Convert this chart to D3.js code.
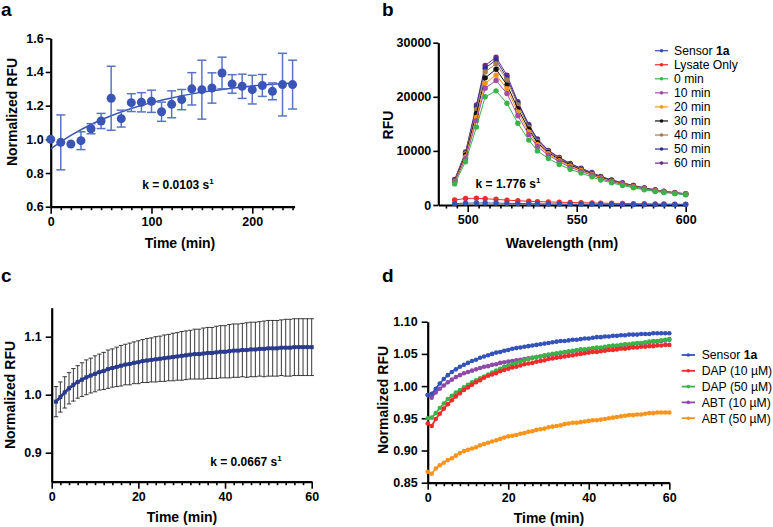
<!DOCTYPE html>
<html><head><meta charset="utf-8">
<script src="https://cdn.jsdelivr.net/npm/d3@7"></script>
<style>body{margin:0;background:#fff} svg text{font-family:"Liberation Sans",Arial,Helvetica,sans-serif}</style>
</head><body><svg id="chart" width="773" height="527"></svg>
<script>
// ---------- Panel a ----------
const aTime = [0,10,20,30,40,50,60,70,80,90,100,110,120,130,140,150,160,170,180,190,200,210,220,230,240];
const aMean = [1.000,0.982,0.972,0.992,1.063,1.109,1.244,1.123,1.218,1.220,1.226,1.164,1.208,1.236,1.300,1.295,1.305,1.394,1.329,1.315,1.295,1.320,1.285,1.325,1.325];
const aErr  = [0,0.163,0,0.053,0.030,0.045,0.190,0.050,0.053,0.057,0.066,0.057,0.080,0.060,0.096,0.175,0.090,0.094,0.055,0.072,0.085,0.065,0.050,0.186,0.145];
const aFitTime = [0,20,40,60,80,100,120,140,160,180,200,220,240];
const aFit = [0.943,1.023,1.088,1.140,1.183,1.218,1.246,1.270,1.289,1.304,1.317,1.327,1.335];
const aYTicks = [0.6,0.8,1.0,1.2,1.4,1.6];
const aXTicks = [0,100,200];

// ---------- Panel b ----------
const bWavelength = [494,499,504,508,513,518,523,528,532,537,542,547,552,557,561,566,571,576,581,586,590,595,600];
const bSeriesNames = ["Sensor 1a","Lysate Only","0 min","10 min","20 min","30 min","40 min","50 min","60 min"];
const bSensor = [250,350,380,380,360,320,280,250,220,200,180,170,150,140,130,120,110,100,100,90,90,80,80];
const bLysate = [920,1200,1250,1150,1050,900,780,700,630,570,510,460,420,380,340,310,280,250,220,200,180,160,140];
const b0min  = [3900,8000,14400,20000,21100,18800,15100,12000,10000,8600,7500,6600,5900,5200,4600,4100,3600,3200,2800,2500,2300,2100,1900];
const b10min = [4200,8600,15600,21600,23000,20600,16500,13000,10800,9200,8000,7000,6200,5500,4850,4300,3800,3350,2950,2600,2400,2200,1950];
const b20min = [4300,8900,16200,22500,24000,21500,17200,13500,11200,9500,8200,7200,6400,5650,5000,4400,3900,3450,3000,2650,2450,2200,2000];
const b30min = [4400,9200,16900,23500,25100,22200,17800,14000,11500,9700,8400,7400,6500,5750,5100,4500,3950,3500,3050,2700,2450,2200,2000];
const b40min = [4500,9500,17600,24600,26100,23100,18500,14400,11800,9900,8600,7500,6600,5850,5150,4550,4000,3550,3100,2750,2500,2250,2050];
const b50min = [4600,9600,18100,25300,26800,23500,18800,14700,12000,10000,8700,7600,6700,5900,5200,4600,4050,3600,3150,2800,2500,2250,2050];
const b60min = [4700,9800,18500,25800,27300,24000,19100,14900,12200,10100,8800,7700,6800,6000,5300,4650,4100,3600,3150,2800,2550,2300,2100];
const bYTicks = [0,10000,20000,30000];
const bXTicks = [500,550,600];
const bColors = ["#3453b3","#ee2a2a","#3cb34a","#a24ca6","#f7941d","#111111","#a67c52","#2e3192","#6a2c86"];

// ---------- Panel c ----------
const cMean = [0.988,0.996,1.004,1.011,1.017,1.022,1.026,1.030,1.033,1.036,1.039,1.041,1.044,1.046,1.048,1.050,1.052,1.053,1.055,1.056,
               1.058,1.059,1.060,1.061,1.062,1.063,1.064,1.065,1.066,1.067,1.068,1.069,1.070,1.070,1.071,1.072,1.072,1.073,1.074,1.074,
               1.075,1.076,1.076,1.077,1.077,1.078,1.078,1.079,1.079,1.080,1.080,1.080,1.081,1.081,1.081,1.082,1.082,1.082,1.082,1.082];
const cErr  = [0.026,0.026,0.027,0.027,0.028,0.028,0.029,0.030,0.030,0.031,0.031,0.032,0.033,0.033,0.034,0.035,0.035,0.036,0.036,0.037,
               0.037,0.038,0.038,0.039,0.039,0.040,0.040,0.041,0.041,0.042,0.042,0.042,0.043,0.043,0.044,0.044,0.044,0.045,0.045,0.045,
               0.046,0.046,0.046,0.046,0.047,0.047,0.047,0.047,0.048,0.048,0.048,0.048,0.048,0.049,0.049,0.049,0.049,0.049,0.049,0.049];
const cYTicks = [0.9,1.0,1.1];
const cXTicks = [0,20,40,60];

// ---------- Panel d ----------
const dSeriesNames = ["Sensor 1a","DAP (10 µM)","DAP (50 µM)","ABT (10 µM)","ABT (50 µM)"];
const dSensor = [0.986,0.988,0.996,1.004,1.011,1.017,1.022,1.026,1.030,1.033,1.036,1.039,1.041,1.044,1.046,1.048,1.050,1.052,1.053,1.055,1.056,
                 1.058,1.059,1.060,1.061,1.062,1.063,1.064,1.065,1.066,1.067,1.068,1.069,1.070,1.070,1.071,1.072,1.072,1.073,1.074,1.074,
                 1.075,1.076,1.076,1.077,1.077,1.078,1.078,1.079,1.079,1.080,1.080,1.080,1.081,1.081,1.081,1.082,1.082,1.082,1.082,1.082];
const dDAP10 = [0.942,0.938,0.949,0.957,0.965,0.972,0.978,0.984,0.989,0.994,0.998,1.002,1.006,1.009,1.013,1.016,1.018,1.020,1.023,1.025,1.027,
                1.029,1.030,1.032,1.034,1.035,1.036,1.038,1.039,1.040,1.042,1.043,1.044,1.045,1.046,1.047,1.048,1.049,1.050,1.051,1.052,
                1.053,1.053,1.054,1.055,1.056,1.056,1.057,1.058,1.058,1.059,1.060,1.060,1.061,1.061,1.062,1.062,1.063,1.063,1.064,1.064];
const dDAP50 = [0.950,0.951,0.958,0.966,0.973,0.980,0.985,0.990,0.994,0.998,1.002,1.006,1.009,1.012,1.015,1.018,1.021,1.024,1.027,1.030,1.032,
                1.034,1.036,1.038,1.040,1.042,1.044,1.045,1.046,1.048,1.049,1.050,1.051,1.052,1.053,1.054,1.055,1.056,1.057,1.057,1.058,
                1.059,1.060,1.060,1.061,1.062,1.063,1.063,1.064,1.065,1.065,1.066,1.067,1.067,1.068,1.069,1.070,1.070,1.071,1.072,1.073];
const dABT10 = [0.986,0.982,0.990,0.996,1.001,1.006,1.010,1.014,1.017,1.020,1.022,1.024,1.026,1.028,1.030,1.031,1.033,1.034,1.036,1.037,1.038,
                1.039,1.040,1.041,1.042,1.043,1.044,1.045,1.046,1.047,1.048,1.049,1.050,1.051,1.052,1.053,1.054,1.055,1.056,1.056,1.057,
                1.058,1.059,1.059,1.060,1.061,1.062,1.062,1.063,1.064,1.064,1.065,1.066,1.066,1.067,1.068,1.069,1.069,1.070,1.071,1.072];
const dABT50 = [0.867,0.864,0.872,0.877,0.881,0.885,0.888,0.892,0.896,0.899,0.901,0.903,0.905,0.908,0.910,0.912,0.914,0.916,0.918,0.920,0.922,
                0.923,0.924,0.926,0.927,0.929,0.930,0.932,0.933,0.934,0.936,0.937,0.938,0.939,0.941,0.942,0.943,0.943,0.944,0.945,0.946,
                0.947,0.947,0.948,0.949,0.950,0.951,0.952,0.953,0.954,0.955,0.955,0.956,0.956,0.957,0.958,0.958,0.959,0.959,0.959,0.959];
const dYTicks = [0.85,0.90,0.95,1.00,1.05,1.10];
const dXTicks = [0,20,40,60];
const dColors = ["#3453b8","#ee2a2a","#3cb34a","#9149a8","#f7941d"];

// ================= drawing =================
const svg = d3.select("#chart");
const FONT = '"Liberation Sans",Arial,Helvetica,sans-serif';

function styleAxis(g, fs) {
  g.attr("font-family", FONT);
  g.selectAll("text").attr("font-size", fs).attr("font-weight", "bold").attr("fill", "#000");
  g.selectAll("line").attr("stroke", "#000").attr("stroke-width", 1.6);
  g.selectAll("path.domain").attr("stroke", "#000").attr("stroke-width", 2.2);
}
function drawAxes(o) {
  const gxMin = svg.append("g").attr("transform", `translate(0,${o.y.range()[0]})`)
    .call(d3.axisBottom(o.x).tickValues(o.xMinor).tickSize(3.5).tickFormat("").tickSizeOuter(0));
  gxMin.select(".domain").remove(); styleAxis(gxMin, 12.5);
  const gx = svg.append("g").attr("transform", `translate(0,${o.y.range()[0]})`)
    .call(d3.axisBottom(o.x).tickValues(o.xMajor).tickSize(7).tickPadding(3.5).tickFormat(o.xFmt).tickSizeOuter(0));
  styleAxis(gx, 12.5);
  const gy = svg.append("g").attr("transform", `translate(${o.x.range()[0]},0)`)
    .call(d3.axisLeft(o.y).tickValues(o.yMajor).tickSize(o.yTick || 5).tickPadding(o.yPad || 2.5).tickFormat(o.yFmt).tickSizeOuter(0));
  styleAxis(gy, 12.5);
}
function label(x, y, txt, opts = {}) {
  const t = svg.append("text").attr("x", x).attr("y", y).attr("text-anchor", opts.anchor || "middle")
    .attr("font-size", opts.size || 14).attr("font-weight", opts.weight || "bold").attr("fill", "#000")
    .attr("font-family", FONT).text(txt);
  if (opts.rotate) t.attr("transform", `rotate(-90,${x},${y})`);
  return t;
}
function kLabel(x, y, txt) {
  const t = svg.append("text").attr("x", x).attr("y", y).attr("text-anchor", "middle")
    .attr("font-size", 12).attr("font-weight", "bold").attr("font-family", FONT).attr("fill", "#000");
  t.append("tspan").text(txt + " s");
  t.append("tspan").attr("font-size", 8).attr("dy", -5).text("1");
}

// ---- Panel a ----
{
  const x = d3.scaleLinear().domain([0, 242]).range([50.7, 294.6]);
  const y = d3.scaleLinear().domain([0.6, 1.6]).range([206.7, 38.3]);
  const minor = d3.range(10, 241, 10).filter(v => !aXTicks.includes(v));
  drawAxes({x, y, xMinor: minor, xMajor: aXTicks, xFmt: d3.format("d"), yMajor: aYTicks, yFmt: d3.format(".1f"), yTick: 5, yPad: 2});
  const col = "#3a55b5", errCol = "#5874c6";
  const fit = aFitTime.map((t, i) => [t, aFit[i]]);
  svg.append("path").datum(fit).attr("fill", "none").attr("stroke", col).attr("stroke-width", 1.5)
    .attr("d", d3.line().x(d => x(d[0])).y(d => y(d[1])).curve(d3.curveMonotoneX));
  const g = svg.append("g");
  aTime.forEach((t, i) => {
    const e = aErr[i];
    if (e > 0) {
      const cx = x(t), y1 = y(aMean[i] + e), y2 = y(aMean[i] - e);
      g.append("line").attr("x1", cx).attr("x2", cx).attr("y1", y1).attr("y2", y2).attr("stroke", errCol).attr("stroke-width", 1.5);
      [y1, y2].forEach(yy => g.append("line").attr("x1", cx - 4.5).attr("x2", cx + 4.5).attr("y1", yy).attr("y2", yy).attr("stroke", errCol).attr("stroke-width", 1.5));
    }
  });
  g.selectAll("circle").data(aTime).join("circle").attr("cx", d => x(d)).attr("cy", (d, i) => y(aMean[i])).attr("r", 4.5).attr("fill", col);
  kLabel(178, 189, "k = 0.0103");
  label(180, 248, "Time (min)");
  label(17, 112, "Normalized RFU", {rotate: true});
  label(1, 16, "a", {anchor: "start", size: 19});
}

// ---- Panel b ----
{
  const x = d3.scaleLinear().domain([486.5, 600]).range([438.3, 685.7]);
  const y = d3.scaleLinear().domain([0, 30000]).range([205, 42.7]);
  const minor = d3.range(490, 601, 5).filter(v => !bXTicks.includes(v));
  drawAxes({x, y, xMinor: minor, xMajor: bXTicks, xFmt: d3.format("d"), yMajor: bYTicks, yFmt: d3.format("d"), yTick: 5, yPad: 2});
  const series = [bSensor, bLysate, b0min, b10min, b20min, b30min, b40min, b50min, b60min];
  const line = d3.line().x((d, i) => x(bWavelength[i])).y(d => y(d));
  const drawOrder = [1, 0, 8, 7, 6, 5, 4, 3, 2];
  drawOrder.forEach(si => {
    const g = svg.append("g");
    g.append("path").datum(series[si]).attr("fill", "none").attr("stroke", bColors[si]).attr("stroke-width", 1).attr("d", line);
    g.selectAll("circle").data(series[si]).join("circle").attr("cx", (d, i) => x(bWavelength[i])).attr("cy", d => y(d)).attr("r", 2.7).attr("fill", bColors[si]);
  });
  bSeriesNames.forEach((n, i) => {
    const cy = 50.7 + i * 14.05;
    svg.append("line").attr("x1", 655).attr("x2", 668).attr("y1", cy).attr("y2", cy).attr("stroke", bColors[i]).attr("stroke-width", 1.2);
    svg.append("circle").attr("cx", 661.5).attr("cy", cy).attr("r", 1.8).attr("fill", bColors[i]);
    const t = svg.append("text").attr("x", 674).attr("y", cy + 4.3).attr("font-size", 12.2).attr("font-family", FONT).attr("fill", "#000");
    if (n === "Sensor 1a") { t.append("tspan").text("Sensor "); t.append("tspan").attr("font-weight", "bold").text("1a"); }
    else t.text(n);
  });
  kLabel(508, 188, "k = 1.776");
  label(562, 248, "Wavelength (nm)");
  label(393, 125, "RFU", {rotate: true});
  label(382, 16, "b", {anchor: "start", size: 19});
}

// ---- Panel c ----
{
  const x = d3.scaleLinear().domain([0, 60]).range([51.7, 311.7]);
  const y = d3.scaleLinear().domain([0.85, 1.15]).range([481.7, 307.7]);
  const minor = d3.range(2, 61, 2).filter(v => !cXTicks.includes(v));
  drawAxes({x, y, xMinor: minor, xMajor: cXTicks, xFmt: d3.format("d"), yMajor: cYTicks, yFmt: d3.format(".1f"), yTick: 6, yPad: 4});
  const cTime = d3.range(1, 61);
  const g = svg.append("g");
  cTime.forEach((t, i) => {
    const cx = x(t), y1 = y(cMean[i] + cErr[i]), y2 = y(cMean[i] - cErr[i]);
    g.append("line").attr("x1", cx).attr("x2", cx).attr("y1", y1).attr("y2", y2).attr("stroke", "#222").attr("stroke-width", 0.9);
    [y1, y2].forEach(yy => g.append("line").attr("x1", cx - 2.2).attr("x2", cx + 2.2).attr("y1", yy).attr("y2", yy).attr("stroke", "#222").attr("stroke-width", 0.9));
  });
  const col = "#2a3a8e";
  svg.append("path").datum(cMean).attr("fill", "none").attr("stroke", col).attr("stroke-width", 2.8)
    .attr("d", d3.line().x((d, i) => x(cTime[i])).y(d => y(d)));
  svg.append("g").selectAll("rect").data(cMean).join("rect")
    .attr("x", (d, i) => x(cTime[i]) - 2).attr("y", d => y(d) - 2).attr("width", 4).attr("height", 4).attr("fill", col);
  kLabel(246, 466, "k = 0.0667");
  label(182, 522, "Time (min)");
  label(15, 395, "Normalized RFU", {rotate: true});
  label(1, 282, "c", {anchor: "start", size: 19});
}

// ---- Panel d ----
{
  const x = d3.scaleLinear().domain([0, 60]).range([427.7, 669.3]);
  const y = d3.scaleLinear().domain([0.85, 1.10]).range([482.7, 321.7]);
  const minor = d3.range(2, 61, 2).filter(v => !dXTicks.includes(v));
  drawAxes({x, y, xMinor: minor, xMajor: dXTicks, xFmt: d3.format("d"), yMajor: dYTicks, yFmt: d3.format(".2f"), yTick: 6, yPad: 4});
  const series = [dSensor, dDAP10, dDAP50, dABT10, dABT50];
  const dTime = d3.range(0, 61);
  const line = d3.line().x((d, i) => x(dTime[i])).y(d => y(d));
  [3, 0, 2, 1, 4].forEach(si => {
    const g = svg.append("g");
    g.append("path").datum(series[si]).attr("fill", "none").attr("stroke", dColors[si]).attr("stroke-width", 1.8).attr("d", line);
    g.selectAll("circle").data(series[si]).join("circle").attr("cx", (d, i) => x(dTime[i])).attr("cy", d => y(d)).attr("r", 2.3).attr("fill", dColors[si]);
  });
  dSeriesNames.forEach((n, i) => {
    const cy = 355 + i * 15.8;
    svg.append("line").attr("x1", 681.7).attr("x2", 695).attr("y1", cy).attr("y2", cy).attr("stroke", dColors[i]).attr("stroke-width", 1.8);
    svg.append("circle").attr("cx", 688.3).attr("cy", cy).attr("r", 1.8).attr("fill", dColors[i]);
    const t = svg.append("text").attr("x", 701.7).attr("y", cy + 4.3).attr("font-size", 12.2).attr("font-family", FONT).attr("fill", "#000");
    if (n === "Sensor 1a") { t.append("tspan").text("Sensor "); t.append("tspan").attr("font-weight", "bold").text("1a"); }
    else t.text(n);
  });
  label(549, 523, "Time (min)");
  label(388, 400, "Normalized RFU", {rotate: true});
  label(382, 282, "d", {anchor: "start", size: 19});
}
</script></body></html>
